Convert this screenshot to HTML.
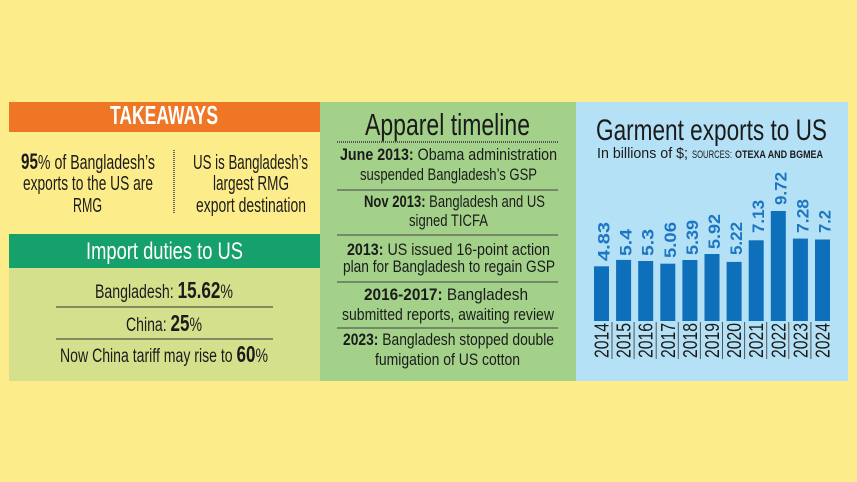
<!DOCTYPE html>
<html><head><meta charset="utf-8"><style>
html,body{margin:0;padding:0;background:#FCEC8A;}
svg{display:block;}
text{font-family:"Liberation Sans Narrow","Liberation Sans",sans-serif;fill:#1b1b1b;}
.b{font-weight:bold;}
</style></head><body>
<svg width="857" height="482" viewBox="0 0 857 482" xmlns="http://www.w3.org/2000/svg">
<rect x="0" y="0" width="857" height="482" fill="#FCEC8A"/>
<!-- Left panel -->
<rect x="9" y="102" width="311" height="30" fill="#EE7624"/>
<text x="164" y="124" font-size="26" class="b" text-anchor="middle" textLength="108" lengthAdjust="spacingAndGlyphs" style="fill:#fff">TAKEAWAYS</text>
<text x="88" y="169" font-size="20.5" text-anchor="middle" textLength="134" lengthAdjust="spacingAndGlyphs"><tspan class="b" font-size="22">95</tspan>% of Bangladesh’s</text>
<text x="88" y="190" font-size="20.5" text-anchor="middle" textLength="130" lengthAdjust="spacingAndGlyphs">exports to the US are</text>
<text x="87.5" y="212" font-size="20.5" text-anchor="middle" textLength="29" lengthAdjust="spacingAndGlyphs">RMG</text>
<line x1="174" y1="150" x2="174" y2="213" stroke="#666" stroke-width="2" stroke-dasharray="1 1"/>
<text x="250.5" y="169" font-size="20.5" text-anchor="middle" textLength="115" lengthAdjust="spacingAndGlyphs">US is Bangladesh’s</text>
<text x="251" y="190" font-size="20.5" text-anchor="middle" textLength="76" lengthAdjust="spacingAndGlyphs">largest RMG</text>
<text x="251" y="212" font-size="20.5" text-anchor="middle" textLength="110" lengthAdjust="spacingAndGlyphs">export destination</text>
<rect x="9" y="234" width="311" height="34" fill="#16A06B"/>
<rect x="9" y="268" width="311" height="113" fill="#D5E08C"/>
<text x="164.5" y="259" font-size="24" text-anchor="middle" textLength="157" lengthAdjust="spacingAndGlyphs" style="fill:#fff">Import duties to US</text>
<text x="164" y="298" font-size="19" text-anchor="middle" textLength="138" lengthAdjust="spacingAndGlyphs">Bangladesh: <tspan class="b" font-size="23">15.62</tspan>%</text>
<line x1="56" y1="307" x2="273" y2="307" stroke="#333" stroke-width="1"/>
<text x="164" y="331" font-size="19" text-anchor="middle" textLength="76" lengthAdjust="spacingAndGlyphs">China: <tspan class="b" font-size="23">25</tspan>%</text>
<line x1="56" y1="339" x2="273" y2="339" stroke="#333" stroke-width="1"/>
<text x="164" y="362" font-size="19" text-anchor="middle" textLength="208" lengthAdjust="spacingAndGlyphs">Now China tariff may rise to <tspan class="b" font-size="23">60</tspan>%</text>
<!-- Middle panel -->
<rect x="320" y="102" width="256" height="279" fill="#A3D18A"/>
<text x="447.5" y="135" font-size="31" text-anchor="middle" textLength="165" lengthAdjust="spacingAndGlyphs">Apparel timeline</text>
<line x1="337" y1="142" x2="558" y2="142" stroke="#555" stroke-width="2" stroke-dasharray="1 1"/>
<text x="448.5" y="160" font-size="17" text-anchor="middle" textLength="217" lengthAdjust="spacingAndGlyphs"><tspan class="b">June 2013:</tspan> Obama administration</text>
<text x="448.5" y="180" font-size="17" text-anchor="middle" textLength="177" lengthAdjust="spacingAndGlyphs">suspended Bangladesh’s GSP</text>
<line x1="337" y1="190" x2="558" y2="190" stroke="#444" stroke-width="1"/>
<text x="454.5" y="207" font-size="17" text-anchor="middle" textLength="181" lengthAdjust="spacingAndGlyphs"><tspan class="b">Nov 2013:</tspan> Bangladesh and US</text>
<text x="448.5" y="226" font-size="17" text-anchor="middle" textLength="79" lengthAdjust="spacingAndGlyphs">signed TICFA</text>
<line x1="337" y1="235" x2="558" y2="235" stroke="#444" stroke-width="1"/>
<text x="448.5" y="255" font-size="17" text-anchor="middle" textLength="203" lengthAdjust="spacingAndGlyphs"><tspan class="b">2013:</tspan> US issued 16-point action</text>
<text x="449" y="272" font-size="17" text-anchor="middle" textLength="212" lengthAdjust="spacingAndGlyphs">plan for Bangladesh to regain GSP</text>
<line x1="337" y1="282" x2="558" y2="282" stroke="#444" stroke-width="1"/>
<text x="446" y="300" font-size="17" text-anchor="middle" textLength="164" lengthAdjust="spacingAndGlyphs"><tspan class="b">2016-2017:</tspan> Bangladesh</text>
<text x="448" y="320" font-size="17" text-anchor="middle" textLength="212" lengthAdjust="spacingAndGlyphs">submitted reports, awaiting review</text>
<line x1="337" y1="328" x2="558" y2="328" stroke="#444" stroke-width="1"/>
<text x="448.5" y="345" font-size="17" text-anchor="middle" textLength="211" lengthAdjust="spacingAndGlyphs"><tspan class="b">2023:</tspan> Bangladesh stopped double</text>
<text x="447.5" y="365" font-size="17" text-anchor="middle" textLength="145" lengthAdjust="spacingAndGlyphs">fumigation of US cotton</text>
<!-- Right panel -->
<rect x="576" y="102" width="272" height="279" fill="#B4E1F6"/>
<text x="711.5" y="140" font-size="30" text-anchor="middle" textLength="231" lengthAdjust="spacingAndGlyphs">Garment exports to US</text>
<text x="597" y="158" font-size="15" textLength="91" lengthAdjust="spacingAndGlyphs">In billions of $;</text>
<text x="692" y="158" font-size="11" textLength="40" lengthAdjust="spacingAndGlyphs">SOURCES:</text>
<text x="735" y="158" font-size="11" class="b" textLength="88" lengthAdjust="spacingAndGlyphs">OTEXA AND BGMEA</text>
<g fill="#0E6FBA">
<rect x="594" y="266.3" width="15" height="54.7"/>
<rect x="616.1" y="259.9" width="15" height="61.1"/>
<rect x="638.2" y="261" width="15" height="60"/>
<rect x="660.3" y="263.7" width="15" height="57.3"/>
<rect x="682.4" y="260" width="15" height="61"/>
<rect x="704.5" y="254" width="15" height="67"/>
<rect x="726.6" y="261.9" width="15" height="59.1"/>
<rect x="748.7" y="240.3" width="15" height="80.7"/>
<rect x="770.8" y="211" width="15" height="110"/>
<rect x="792.9" y="238.6" width="15" height="82.4"/>
<rect x="815" y="239.5" width="15" height="81.5"/>
</g>
<g font-size="17" class="b" style="font-weight:bold">
<text transform="translate(609.5,261) rotate(-90)" textLength="39" lengthAdjust="spacingAndGlyphs" style="fill:#1C76C2">4.83</text>
<text transform="translate(631.6,256) rotate(-90)" textLength="27" lengthAdjust="spacingAndGlyphs" style="fill:#1C76C2">5.4</text>
<text transform="translate(653.7,256) rotate(-90)" textLength="27" lengthAdjust="spacingAndGlyphs" style="fill:#1C76C2">5.3</text>
<text transform="translate(675.8,258) rotate(-90)" textLength="36" lengthAdjust="spacingAndGlyphs" style="fill:#1C76C2">5.06</text>
<text transform="translate(697.9,255) rotate(-90)" textLength="35" lengthAdjust="spacingAndGlyphs" style="fill:#1C76C2">5.39</text>
<text transform="translate(720,249) rotate(-90)" textLength="35" lengthAdjust="spacingAndGlyphs" style="fill:#1C76C2">5.92</text>
<text transform="translate(742.1,255) rotate(-90)" textLength="33" lengthAdjust="spacingAndGlyphs" style="fill:#1C76C2">5.22</text>
<text transform="translate(764.2,233) rotate(-90)" textLength="33" lengthAdjust="spacingAndGlyphs" style="fill:#1C76C2">7.13</text>
<text transform="translate(786.3,205) rotate(-90)" textLength="33" lengthAdjust="spacingAndGlyphs" style="fill:#1C76C2">9.72</text>
<text transform="translate(808.4,233) rotate(-90)" textLength="34" lengthAdjust="spacingAndGlyphs" style="fill:#1C76C2">7.28</text>
<text transform="translate(830.5,233) rotate(-90)" textLength="23" lengthAdjust="spacingAndGlyphs" style="fill:#1C76C2">7.2</text>
</g>
<g font-size="20">
<text transform="translate(608.5,358) rotate(-90)" textLength="35" lengthAdjust="spacingAndGlyphs">2014</text>
<text transform="translate(630.6,358) rotate(-90)" textLength="35" lengthAdjust="spacingAndGlyphs">2015</text>
<text transform="translate(652.7,358) rotate(-90)" textLength="35" lengthAdjust="spacingAndGlyphs">2016</text>
<text transform="translate(674.8,358) rotate(-90)" textLength="35" lengthAdjust="spacingAndGlyphs">2017</text>
<text transform="translate(696.9,358) rotate(-90)" textLength="35" lengthAdjust="spacingAndGlyphs">2018</text>
<text transform="translate(719,358) rotate(-90)" textLength="35" lengthAdjust="spacingAndGlyphs">2019</text>
<text transform="translate(741.1,358) rotate(-90)" textLength="35" lengthAdjust="spacingAndGlyphs">2020</text>
<text transform="translate(763.2,358) rotate(-90)" textLength="35" lengthAdjust="spacingAndGlyphs">2021</text>
<text transform="translate(785.3,358) rotate(-90)" textLength="35" lengthAdjust="spacingAndGlyphs">2022</text>
<text transform="translate(807.4,358) rotate(-90)" textLength="35" lengthAdjust="spacingAndGlyphs">2023</text>
<text transform="translate(829.5,358) rotate(-90)" textLength="35" lengthAdjust="spacingAndGlyphs">2024</text>
</g>
<g stroke="#555" stroke-width="1">
<line x1="612" y1="322" x2="612" y2="359"/>
<line x1="634.1" y1="322" x2="634.1" y2="359"/>
<line x1="656.2" y1="322" x2="656.2" y2="359"/>
<line x1="678.3" y1="322" x2="678.3" y2="359"/>
<line x1="700.4" y1="322" x2="700.4" y2="359"/>
<line x1="722.5" y1="322" x2="722.5" y2="359"/>
<line x1="744.6" y1="322" x2="744.6" y2="359"/>
<line x1="766.7" y1="322" x2="766.7" y2="359"/>
<line x1="788.8" y1="322" x2="788.8" y2="359"/>
<line x1="810.9" y1="322" x2="810.9" y2="359"/>
</g>
</svg>
</body></html>
